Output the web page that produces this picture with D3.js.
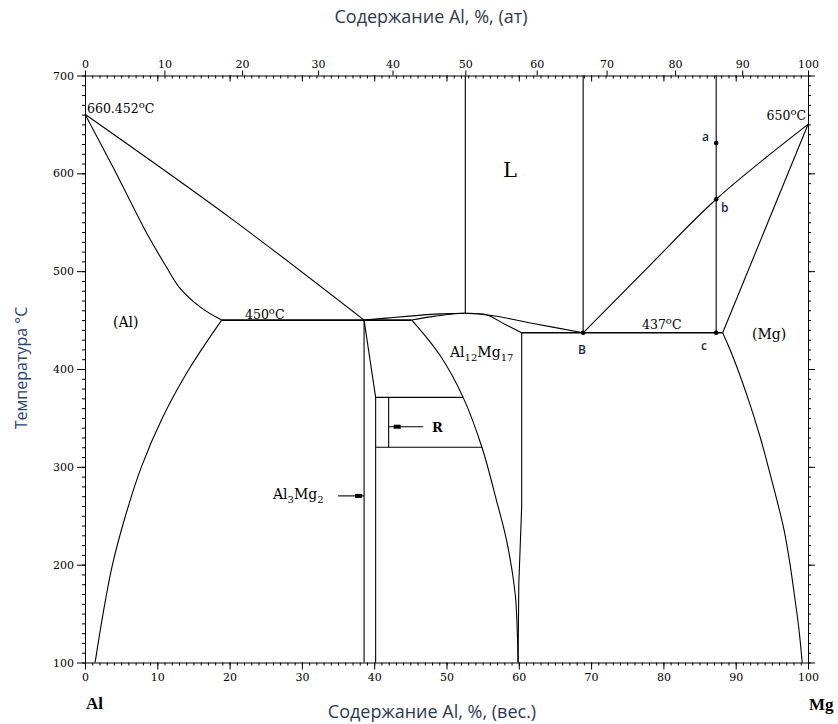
<!DOCTYPE html>
<html>
<head>
<meta charset="utf-8">
<script src="https://cdn.jsdelivr.net/npm/d3@7"></script>
<style>
  body { margin: 0; background: #fff; }
  .tick text { font-family: "DejaVu Serif", serif; font-size: 11px; fill: #000; }
  .lbl { font-family: "DejaVu Serif", serif; fill: #000; }
  .ttl { font-family: "Open Sans", "Noto Sans", sans-serif; font-size: 18px; fill: #2e3950; }
  .pt { font-family: "Open Sans", sans-serif; font-size: 12px; font-weight: 600; fill: #1c2a4a; }
</style>
</head>
<body>
<div id="chart"></div>
<script>
var svgWidth = 838;
var svgHeight = 724;

// axis ticks
var wtTicks = d3.range(0, 101, 10);
var atTicks = d3.range(0, 101, 10);
var tempTicks = d3.range(100, 701, 100);

// phase boundaries, [wt %, T °C]
var liquidusAl = [[0, 660.452], [20, 555], [38.6, 450]];
var solidusAl = [[0, 660.452], [3.9, 606], [8.6, 538], [11.2, 505], [13.1, 483], [16, 463], [18.9, 450]];
var solvusAl = [[18.9, 450], [14.4, 400], [10.7, 350], [7.8, 300], [5.6, 250], [3.8, 200], [2.5, 150], [1.4, 100]];
var eutectic450 = [[18.9, 450], [45.2, 450]];
var al3mg2Left = [[38.6, 450], [38.6, 100]];
var al3mg2Right = [[38.6, 450], [40.2, 371], [40.2, 100]];
var rTop = [[40.2, 371], [52.3, 371]];
var rBottom = [[40.2, 320], [54.9, 320]];
var rSide = [[42, 371], [42, 320]];
var gammaLeft = [[45.2, 450], [49.1, 414], [52.3, 371], [54.9, 320], [56.9, 266], [58.3, 225], [59.5, 170], [59.8, 129], [59.9, 100]];
var gammaRight = [[60.4, 437], [60.4, 260], [60.2, 220], [60.0, 180], [59.9, 100]];
var liquidusDome = [[38.6, 450], [41.7, 452], [44.9, 454], [49.1, 456.3], [52.6, 457], [56, 455], [62, 446.5], [68.9, 437]];
var solidusDome = [[45.2, 450], [48, 453.5], [50.5, 456], [52.6, 457], [55.5, 455.5], [58, 446], [60.4, 437]];
var eutectic437 = [[60.4, 437], [88.2, 437]];
var liquidusMg = [[68.9, 437], [78, 505], [87.3, 573.5], [100, 650]];
var solidusMg = [[100, 650], [88.2, 437]];
var solvusMg = [[88.2, 437], [89.7, 411], [91.7, 370], [93.4, 330], [94.5, 300], [95.7, 266], [96.7, 235], [97.5, 201], [98.1, 170], [98.7, 137], [99.2, 100]];
var vertical50 = [[52.6, 700], [52.6, 457]];
var verticalB = [[68.9, 700], [68.9, 437]];
var verticalA = [[87.3, 700], [87.3, 437]];

var points = [
  {name: "a", wt: 87.3, t: 631},
  {name: "b", wt: 87.3, t: 573.5},
  {name: "c", wt: 87.3, t: 437},
  {name: "B", wt: 68.9, t: 437}
];

var svg = d3.select("#chart")
  .append("svg")
  .attr("width", svgWidth)
  .attr("height", svgHeight);

var x = d3.scaleLinear().domain([0, 100]).range([85, 808]);
var y = d3.scaleLinear().domain([100, 700]).range([662.5, 75.5]);

// at % -> wt % (Al/Mg atomic masses)
function atToWt(a) {
  return 100 * a * 26.98 / (a * 26.98 + (100 - a) * 24.305);
}
var xAt = d3.scaleLinear()
  .domain(d3.range(0, 101))
  .range(d3.range(0, 101).map(a => x(atToWt(a))));

// bottom axis
svg.append("g")
  .attr("transform", `translate(0, ${y(100)})`)
  .call(d3.axisBottom(x).tickValues(d3.range(0, 101, 1)).tickSize(3).tickFormat(""))
  .call(g => g.select(".domain").remove());
svg.append("g")
  .attr("transform", `translate(0, ${y(100)})`)
  .call(d3.axisBottom(x).tickValues(wtTicks).tickSize(7).tickSizeOuter(0).tickPadding(4));

// top axis
svg.append("g")
  .attr("transform", `translate(0, ${y(700)})`)
  .call(d3.axisBottom(x).tickValues(d3.range(0, 101, 1)).tickSize(3).tickFormat(""))
  .call(g => g.select(".domain").remove());
svg.append("g")
  .attr("transform", `translate(0, ${y(700)})`)
  .call(d3.axisBottom(x).tickValues(wtTicks).tickSize(6).tickFormat(""))
  .call(g => g.select(".domain").remove());
svg.append("g")
  .attr("transform", `translate(0, ${y(700)})`)
  .call(d3.axisTop(xAt).tickValues(atTicks).tickSize(5).tickSizeOuter(0).tickPadding(3));

// left axis
svg.append("g")
  .attr("transform", `translate(${x(0)}, 0)`)
  .call(d3.axisLeft(y).tickValues(d3.range(100, 701, 10)).tickSize(3).tickFormat(""))
  .call(g => g.select(".domain").remove());
svg.append("g")
  .attr("transform", `translate(${x(0)}, 0)`)
  .call(d3.axisLeft(y).tickValues(tempTicks).tickSize(8).tickSizeOuter(0).tickPadding(3));

// right axis
svg.append("g")
  .attr("transform", `translate(${x(100)}, 0)`)
  .call(d3.axisRight(y).tickValues(d3.range(100, 701, 10)).tickSize(3).tickFormat(""))
  .call(g => g.select(".domain").remove());
svg.append("g")
  .attr("transform", `translate(${x(100)}, 0)`)
  .call(d3.axisRight(y).tickValues(tempTicks).tickSize(7).tickSizeOuter(0).tickFormat(""));

svg.selectAll(".tick line, .domain").attr("stroke", "#000");

// phase lines
var curved = d3.line().x(d => x(d[0])).y(d => y(d[1])).curve(d3.curveCatmullRom.alpha(0.5));
var straight = d3.line().x(d => x(d[0])).y(d => y(d[1]));

var curvedLines = [solidusAl, solvusAl, gammaLeft, solvusMg, liquidusAl, liquidusDome, solidusDome, liquidusMg];
var straightLines = [al3mg2Left, al3mg2Right, rTop, rBottom, rSide, gammaRight, solidusMg, vertical50, verticalB, verticalA];

svg.selectAll(".curve")
  .data(curvedLines)
  .enter()
  .append("path")
  .attr("d", curved)
  .attr("fill", "none")
  .attr("stroke", "#000")
  .attr("stroke-width", 1.1);

svg.selectAll(".straight")
  .data(straightLines)
  .enter()
  .append("path")
  .attr("d", straight)
  .attr("fill", "none")
  .attr("stroke", "#000")
  .attr("stroke-width", 1.1);

svg.selectAll(".iso")
  .data([eutectic450, eutectic437])
  .enter()
  .append("path")
  .attr("d", straight)
  .attr("fill", "none")
  .attr("stroke", "#000")
  .attr("stroke-width", 1.6);

// pointer arrows
function pointer(wFrom, wTo, t) {
  svg.append("line")
    .attr("x1", x(wFrom)).attr("x2", x(wTo))
    .attr("y1", y(t)).attr("y2", y(t))
    .attr("stroke", "#000").attr("stroke-width", 1.1);
  svg.append("rect")
    .attr("x", wFrom < wTo ? x(wTo) - 9 : x(wTo) + 5).attr("y", y(t) - 2)
    .attr("width", 7).attr("height", 4)
    .attr("fill", "#000");
}
pointer(35, 38.6, 270.3);
pointer(46.8, 42, 341);

// marked points
svg.selectAll(".dot")
  .data(points)
  .enter()
  .append("circle")
  .attr("cx", d => x(d.wt))
  .attr("cy", d => y(d.t))
  .attr("r", 2.3)
  .attr("fill", "#000");

function ptLabel(text, px, py) {
  svg.append("text").attr("class", "pt").attr("x", px).attr("y", py).text(text);
}
ptLabel("a", 702, 141);
ptLabel("b", 721, 212);
ptLabel("c", 701, 350);
ptLabel("B", 578, 354);

// temperature labels
function degLabel(num, px, py, anchor) {
  var t = svg.append("text").attr("class", "lbl")
    .attr("x", px).attr("y", py)
    .attr("text-anchor", anchor || "start")
    .style("font-size", "12.5px");
  t.append("tspan").text(num);
  t.append("tspan").attr("dy", -5).style("font-size", "10px").text("o");
  t.append("tspan").attr("dy", 5).text("C");
}
degLabel("660.452", 87, 113);
degLabel("650", 806, 120, "end");
degLabel("450", 245, 319);
degLabel("437", 642, 329);

function formula(parts, px, py) {
  var t = svg.append("text").attr("class", "lbl")
    .attr("x", px).attr("y", py)
    .style("font-size", "14px");
  parts.forEach(function (p) {
    if (p.sub) {
      t.append("tspan").attr("dy", 4).style("font-size", "10px").text(p.s);
    } else {
      t.append("tspan").attr("dy", p.first ? 0 : -4).text(p.s);
    }
  });
}
formula([{s: "Al", first: true}, {s: "12", sub: true}, {s: "Mg"}, {s: "17", sub: true}], 450, 357);
formula([{s: "Al", first: true}, {s: "3", sub: true}, {s: "Mg"}, {s: "2", sub: true}], 273, 499);

svg.append("text").attr("class", "lbl").attr("x", 113).attr("y", 327)
  .style("font-size", "14px").text("(Al)");
svg.append("text").attr("class", "lbl").attr("x", 752).attr("y", 339)
  .style("font-size", "14px").text("(Mg)");
svg.append("text").attr("class", "lbl").attr("x", 503).attr("y", 177)
  .style("font-size", "21px").text("L");
svg.append("text").attr("class", "lbl").attr("x", 432).attr("y", 432)
  .style("font-size", "13px").style("font-weight", "bold").text("R");
svg.append("text").attr("class", "lbl").attr("x", 86).attr("y", 709)
  .style("font-family", "Liberation Serif, serif")
  .style("font-size", "17px").style("font-weight", "bold").text("Al");
svg.append("text").attr("class", "lbl").attr("x", 809).attr("y", 710)
  .style("font-family", "Liberation Serif, serif")
  .style("font-size", "17px").style("font-weight", "bold").text("Mg");

// axis titles
svg.append("text").attr("class", "ttl")
  .attr("x", 431).attr("y", 23).attr("text-anchor", "middle")
  .text("Содержание Al, %, (ат)");
svg.append("text").attr("class", "ttl")
  .attr("x", 432).attr("y", 718).attr("text-anchor", "middle")
  .text("Содержание Al, %, (вес.)");
svg.append("text").attr("class", "ttl")
  .attr("transform", "translate(27, 368) rotate(-90)")
  .attr("text-anchor", "middle")
  .style("font-size", "16px")
  .style("fill", "#2c4370")
  .text("Температура °C");
</script>
</body>
</html>
